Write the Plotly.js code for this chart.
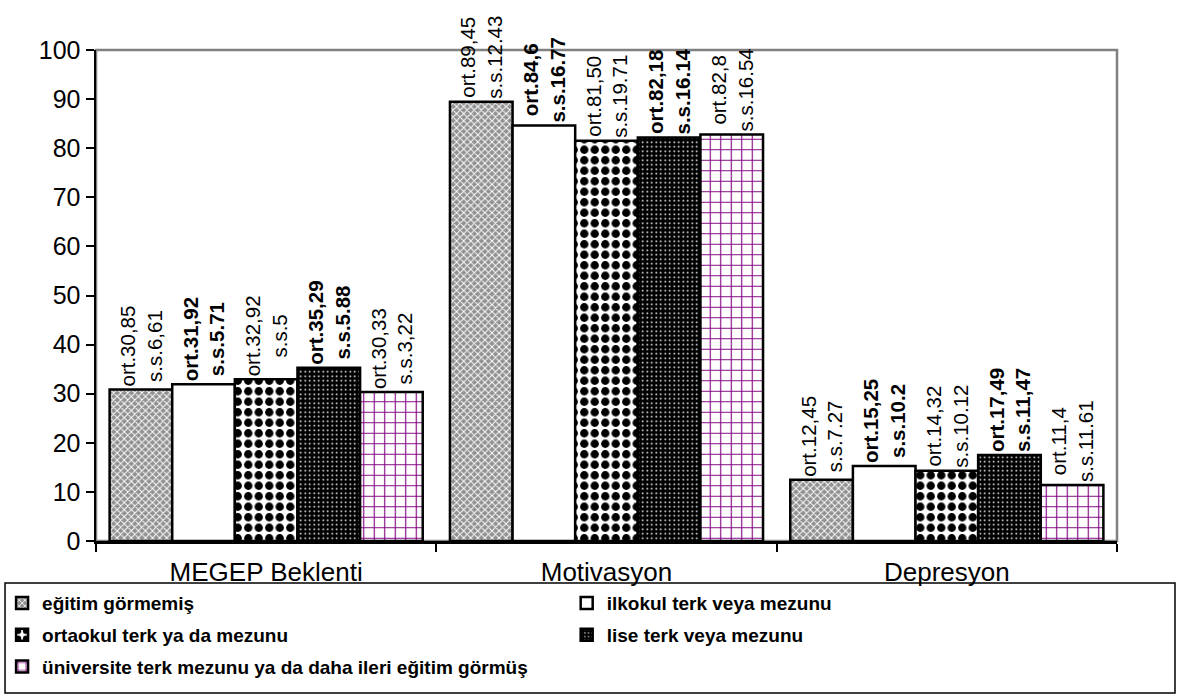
<!DOCTYPE html>
<html>
<head>
<meta charset="utf-8">
<script src="https://cdn.plot.ly/plotly-3.0.1.min.js"></script>
<style>
  html, body { margin: 0; padding: 0; background: #ffffff; }
  #chart { width: 1193px; height: 699px; }
</style>
</head>
<body>
<div id="chart"></div>
<script>
// Scale categories (x axis)
const categories = ['MEGEP Beklenti', 'Motivasyon', 'Depresyon'];

// Education groups (legend entries)
const groups = [
  'eğitim görmemiş',
  'ilkokul terk veya mezunu',
  'ortaokul terk ya da mezunu',
  'lise terk veya mezunu',
  'üniversite terk mezunu ya da daha ileri eğitim görmüş'
];

// Means per group, written as printed (decimal comma); bars use the same values
const meanEgitimYok   = ['30,85', '89,45', '12,45'];
const meanIlkokul     = ['31,92', '84,6',  '15,25'];
const meanOrtaokul    = ['32,92', '81,50', '14,32'];
const meanLise        = ['35,29', '82,18', '17,49'];
const meanUniversite  = ['30,33', '82,8',  '11,4'];

// Standard deviations per group, as printed
const sdEgitimYok  = ['6,61',  '12.43', '7.27'];
const sdIlkokul    = ['5.71',  '16.77', '10.2'];
const sdOrtaokul   = ['5',     '19.71', '10.12'];
const sdLise       = ['5.88',  '16.14', '11,47'];
const sdUniversite = ['3,22',  '16.54', '11.61'];

// Y axis ticks
const yTicks = [0, 10, 20, 30, 40, 50, 60, 70, 80, 90, 100];

const toNum = s => parseFloat(s.replace(',', '.'));

const means = [meanEgitimYok, meanIlkokul, meanOrtaokul, meanLise, meanUniversite];
const sds = [sdEgitimYok, sdIlkokul, sdOrtaokul, sdLise, sdUniversite];

const patterns = [
  { shape: 'x', bgcolor: '#919191', fgcolor: '#ffffff', size: 5, solidity: 0.35, fillmode: 'replace' },
  { shape: '',  bgcolor: '#ffffff', fgcolor: '#ffffff', size: 8, solidity: 0.3, fillmode: 'replace' },
  { shape: '.', bgcolor: '#ffffff', fgcolor: '#000000', size: 10.5, solidity: 0.5, fillmode: 'replace' },
  { shape: '.', bgcolor: '#000000', fgcolor: '#ffffff', size: 4.5, solidity: 0.12, fillmode: 'replace' },
  { shape: '+', bgcolor: '#ffffff', fgcolor: '#800080', size: 10.5, solidity: 0.2, fillmode: 'replace' }
];
const baseColors = ['#a8a8a8', '#ffffff', '#ffffff', '#111111', '#ffffff'];
const boldLabels = [false, true, false, true, false];
// left legend column: groups 1, 3, 5; right column: groups 2, 4
const legendColumn = ['legend', 'legend2', 'legend', 'legend2', 'legend'];

const traces = groups.map((name, i) => ({
  type: 'bar',
  name: name,
  legend: legendColumn[i],
  legendgroup: 'g' + i,
  x: categories,
  y: means[i].map(toNum),
  text: means[i].map((m, k) => 'ort.' + m + '<br>s.s.' + sds[i][k]),
  textposition: 'outside',
  textangle: -90,
  constraintext: 'none',
  cliponaxis: false,
  textfont: { family: 'Liberation Sans, Arial, sans-serif', size: 20.5, color: '#000000',
              weight: boldLabels[i] ? 'bold' : 'normal' },
  hoverinfo: 'x+y+name',
  marker: {
    color: baseColors[i],
    pattern: patterns[i],
    line: { color: '#000000', width: 2.5 }
  }
}));

const legendStyle = {
  orientation: 'v',
  xanchor: 'left',
  y: -0.088,
  yanchor: 'top',
  bgcolor: 'rgba(0,0,0,0)',
  borderwidth: 0,
  traceorder: 'grouped',
  tracegroupgap: 4,
  itemwidth: 30,
  itemclick: false,
  font: { family: 'Liberation Sans, Arial, sans-serif', size: 19, color: '#000000', weight: 'bold' }
};

const layout = {
  width: 1193,
  height: 699,
  paper_bgcolor: '#ffffff',
  plot_bgcolor: '#ffffff',
  margin: { l: 96, r: 76, t: 50, b: 158, autoexpand: false },
  barmode: 'group',
  bargap: 0.08,
  bargroupgap: 0,
  showlegend: true,
  font: { family: 'Liberation Sans, Arial, sans-serif', color: '#000000' },
  xaxis: {
    type: 'category',
    showline: true,
    linecolor: '#000000',
    linewidth: 2.5,
    ticks: 'outside',
    tickson: 'boundaries',
    ticklen: 8,
    tickwidth: 2,
    tickcolor: '#000000',
    ticklabelstandoff: 6,
    showgrid: false,
    tickfont: { size: 26, color: '#000000' },
    fixedrange: true
  },
  yaxis: {
    range: [0, 100],
    tickvals: yTicks,
    showline: true,
    linecolor: '#000000',
    linewidth: 2.5,
    ticks: 'outside',
    ticklen: 8,
    tickwidth: 2,
    tickcolor: '#000000',
    showgrid: false,
    zeroline: false,
    tickfont: { size: 25, color: '#000000' },
    fixedrange: true
  },
  shapes: [
    {
      // plot frame (top and right edges)
      type: 'rect', xref: 'paper', yref: 'paper',
      x0: 0, x1: 1, y0: 0, y1: 1,
      line: { color: '#808080', width: 2.5 },
      layer: 'below'
    },
    {
      // legend box
      type: 'rect', xref: 'paper', yref: 'paper',
      x0: -0.0891, x1: 1.0568, y0: -0.3096, y1: -0.0855,
      line: { color: '#000000', width: 1.5 },
      layer: 'below'
    }
  ],
  legend: Object.assign({}, legendStyle, { x: -0.092 }),
  legend2: Object.assign({}, legendStyle, { x: 0.461 })
};

Plotly.newPlot('chart', traces, layout, { displayModeBar: false, staticPlot: true });
</script>
</body>
</html>
